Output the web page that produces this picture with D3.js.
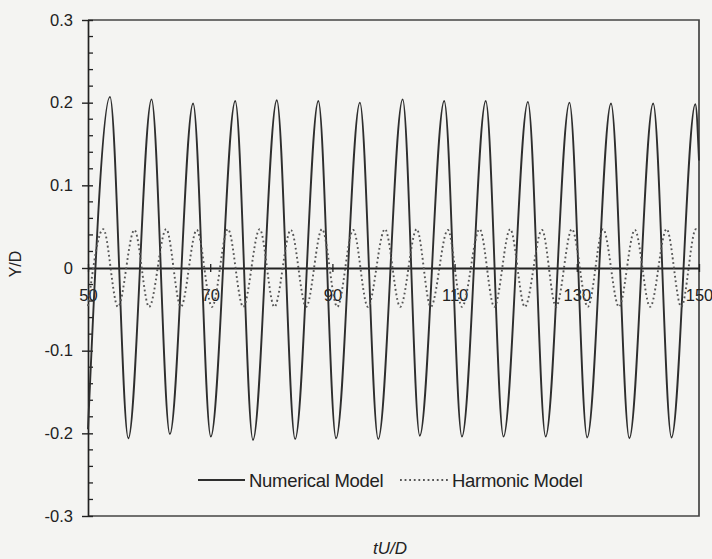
<!DOCTYPE html>
<html>
<head>
<meta charset="utf-8">
<script src="https://cdn.jsdelivr.net/npm/d3@7"></script>
<style>
  body { margin: 0; background: #f4f4f2; }
  svg { display: block; font-family: "Liberation Sans", Arial, sans-serif; }
</style>
</head>
<body>
<svg id="chart" width="712" height="559"></svg>
<script>
// tU/D positions of the extrema, with Y/D there
const numT = [50.0, 53.6, 56.6, 60.4, 63.4, 67.2, 70.1, 74.1, 77.0, 80.9, 83.9, 87.7, 90.6, 94.5, 97.5, 101.5,
  104.3, 108.3, 111.2, 115.1, 118.0, 122.0, 124.9, 128.8, 131.7, 135.6, 138.6, 142.5, 145.5, 149.4, 150.0];
const numY = [-0.195, 0.207, -0.206, 0.204, -0.201, 0.199, -0.204, 0.202, -0.208, 0.203, -0.207, 0.202, -0.206, 0.200, -0.207, 0.204,
  -0.203, 0.202, -0.204, 0.202, -0.204, 0.201, -0.204, 0.200, -0.205, 0.199, -0.206, 0.199, -0.205, 0.198, 0.130];

const harmT = [50.0, 52.5, 54.9, 57.6, 60.0, 62.8, 65.2, 67.8, 70.3, 72.9, 75.4, 78.1, 80.5, 83.2, 85.7, 88.3, 90.8, 93.4, 95.8,
  98.6, 101.1, 103.8, 106.1, 108.9, 111.2, 114.1, 116.5, 119.1, 121.5, 124.3, 126.6, 129.2, 131.8, 134.3, 136.9, 139.5,
  142.0, 144.7, 147.1, 149.5, 150.0];
const harmY = [-0.046, 0.047, -0.047, 0.046, -0.047, 0.047, -0.047, 0.046, -0.047, 0.047, -0.047, 0.047, -0.047, 0.046, -0.047,
  0.047, -0.047, 0.046, -0.047, 0.047, -0.047, 0.047, -0.047, 0.046, -0.047, 0.047, -0.047, 0.047, -0.047, 0.046, -0.047,
  0.047, -0.047, 0.047, -0.047, 0.046, -0.047, 0.047, -0.047, 0.047, 0.045];

const xTicks = [50, 70, 90, 110, 130, 150];
const yTicks = [-0.3, -0.2, -0.1, 0, 0.1, 0.2, 0.3];
const yTickLabels = ["-0.3", "-0.2", "-0.1", "0", "0.1", "0.2", "0.3"];
const yMinorTicks = d3.range(-0.28, 0.3, 0.02);
const seriesNames = ["Numerical Model", "Harmonic Model"];

const svg = d3.select("#chart");
const ink = "#222";

const x = d3.scaleLinear().domain([50, 150]).range([88, 699]);
const y = d3.scaleLinear().domain([-0.3, 0.3]).range([516, 20]);

// frame
svg.append("path")
  .attr("d", `M${x(50)},${y(0.3)}H${x(150)}V${y(-0.3)}H${x(50)}`)
  .attr("fill", "none")
  .attr("stroke", "#444")
  .attr("stroke-width", 1.7);

// y axis
const yAxis = svg.append("g")
  .attr("transform", `translate(${x(50)},0)`)
  .call(d3.axisLeft(y)
    .tickValues(yTicks)
    .tickFormat((d, i) => yTickLabels[i])
    .tickSizeInner(6)
    .tickSizeOuter(0)
    .tickPadding(9));
yAxis.select(".domain").attr("stroke", ink).attr("stroke-width", 1.7);
yAxis.selectAll(".tick line").attr("stroke", ink).attr("x2", 5).attr("x1", -6).attr("stroke-width", 1.4);
yAxis.selectAll(".tick text").attr("fill", ink).attr("font-size", 16.5);

yAxis.selectAll(".minor")
  .data(yMinorTicks.filter(v => Math.abs(Math.round(v * 10) - v * 10) > 0.01))
  .enter().append("line")
  .attr("class", "minor")
  .attr("x1", 0).attr("x2", 5)
  .attr("y1", d => y(d)).attr("y2", d => y(d))
  .attr("stroke", ink)
  .attr("stroke-width", 1.3);

// x axis along zero
const xAxis = svg.append("g")
  .attr("transform", `translate(0,${y(0)})`)
  .call(d3.axisBottom(x)
    .tickValues(xTicks)
    .tickSizeInner(4)
    .tickSizeOuter(0)
    .tickPadding(17));
xAxis.select(".domain").attr("stroke", ink).attr("stroke-width", 2);
xAxis.selectAll(".tick line").attr("stroke", ink).attr("y1", -4).attr("stroke-width", 1.3);
xAxis.selectAll(".tick text").attr("fill", ink).attr("font-size", 16.5);

// series
const line = d3.line().curve(d3.curveMonotoneX);

svg.append("path")
  .datum(numT.map((t, i) => [x(t), y(numY[i])]))
  .attr("d", line)
  .attr("fill", "none")
  .attr("stroke", "#2e2e2e")
  .attr("stroke-width", 1.9);

svg.append("path")
  .datum(harmT.map((t, i) => [x(t), y(harmY[i])]))
  .attr("d", line)
  .attr("fill", "none")
  .attr("stroke", "#555")
  .attr("stroke-width", 1.9)
  .attr("stroke-dasharray", "1.8,2.8");

// legend
const legend = svg.append("g").attr("transform", "translate(198,480)");
legend.append("line").attr("x1", 0).attr("x2", 47).attr("stroke", "#2e2e2e").attr("stroke-width", 1.9);
legend.append("text").attr("x", 51).attr("y", 7).attr("font-size", 18.5).attr("fill", ink)
  .attr("letter-spacing", -0.3).text(seriesNames[0]);
legend.append("line").attr("x1", 202).attr("x2", 250).attr("stroke", "#555").attr("stroke-width", 1.9)
  .attr("stroke-dasharray", "1.8,2.8");
legend.append("text").attr("x", 254).attr("y", 7).attr("font-size", 18.5).attr("fill", ink)
  .attr("letter-spacing", -0.3).text(seriesNames[1]);

// axis titles
svg.append("text")
  .attr("x", 390).attr("y", 554)
  .attr("text-anchor", "middle")
  .attr("font-size", 17).attr("font-style", "italic").attr("fill", ink)
  .text("tU/D");

svg.append("text")
  .attr("transform", "translate(21,264) rotate(-90)")
  .attr("text-anchor", "middle")
  .attr("font-size", 16).attr("fill", ink)
  .text("Y/D");
</script>
</body>
</html>
